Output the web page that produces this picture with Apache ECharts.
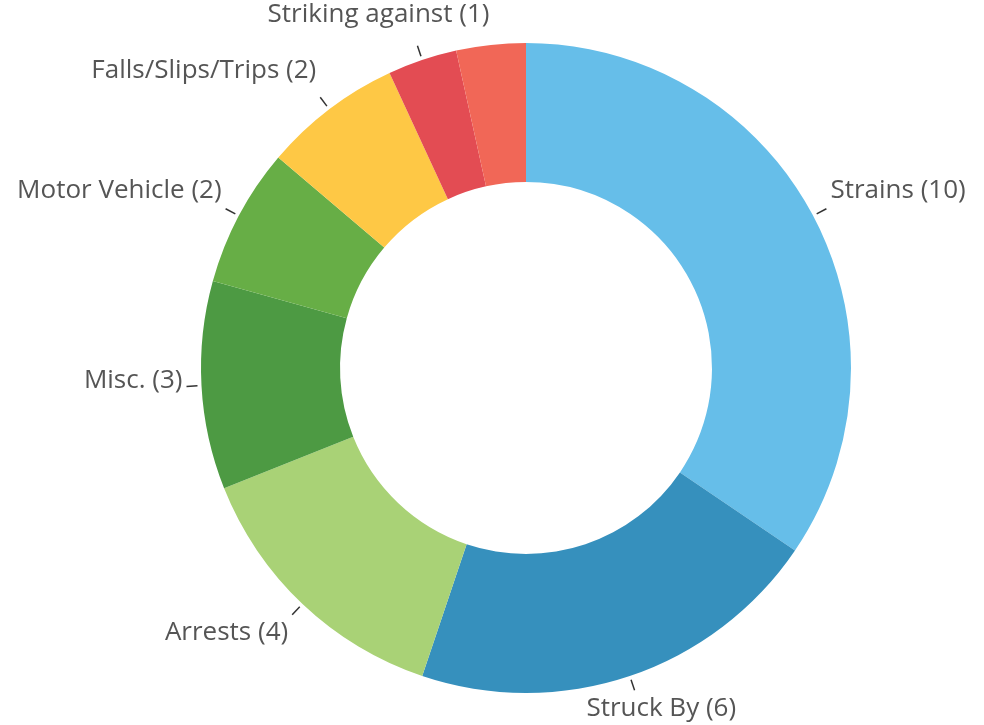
<!DOCTYPE html>
<html>
<head>
<meta charset="utf-8">
<title>Injuries by cause</title>
<script src="https://cdn.jsdelivr.net/npm/echarts@6/dist/echarts.min.js"></script>
<style>
	html, body {
		margin: 0;
		padding: 0;
		background: #fff;
	}

	#chart {
		width: 984px;
		height: 725px;
	}
</style>
</head>
<body>
<div id="chart"></div>
<script>
	// slices, clockwise from 12 o'clock
	const categories = ['Strains', 'Struck By', 'Arrests', 'Misc.', 'Motor Vehicle', 'Falls/Slips/Trips', 'Striking against', 'Other']
	const counts = [10, 6, 4, 3, 2, 2, 1, 1]
	const showLabel = [true, true, true, true, true, true, true, false]

	const palette = ['#66bee9', '#3690bd', '#a9d276', '#4d9a43', '#67ae46', '#fec845', '#e34c53', '#f16757']

	function clamp(v, a, b) {
		return Math.max(a, Math.min(b, v))
	}

	// place text around the end of a short radial tick
	function placeLabel(p) {
		const pts = p.labelLinePoints
		if (!pts) return {}
		const x0 = pts[0][0], y0 = pts[0][1]
		const dx = pts[1][0] - x0, dy = pts[1][1] - y0
		const len = Math.sqrt(dx * dx + dy * dy) || 1
		const ux = dx / len, uy = dy / len
		const sx = x0 + ux * 4, sy = y0 + uy * 4
		const ex = x0 + ux * 15, ey = y0 + uy * 15
		const w = p.labelRect.width, h = p.labelRect.height

		// signed angle from the vertical axis, degrees
		const phi = Math.asin(clamp(ux, -1, 1)) * 180 / Math.PI
		const t = Math.abs(phi)
		const g = clamp(t / 55 + Math.max(0, t - 20) * 0.03, 0, 1)
		const f = 0.5 - 0.5 * Math.sign(phi) * g
		const fv = clamp(0.75 - 1.5 * uy, 0, 1)
		const lift = clamp((-uy - 0.5) * 30, 0, 14)

		return {
			x: ex - f * w + (1 - 2 * f) * 4,
			y: ey - fv * h + (1 - 2 * fv) * 2 - lift,
			align: 'left',
			verticalAlign: 'top',
			labelLinePoints: [[sx, sy], [ex, ey], [ex, ey]]
		}
	}

	const data = categories.map((name, i) => ({
		name: name,
		value: counts[i],
		itemStyle: { color: palette[i] },
		label: { show: showLabel[i] },
		labelLine: { show: showLabel[i] }
	}))

	const chart = echarts.init(document.getElementById('chart'))

	chart.setOption({
		animation: false,
		series: [{
			type: 'pie',
			center: [526, 368],
			radius: [186, 325],
			startAngle: 90,
			clockwise: true,
			avoidLabelOverlap: false,
			data: data,
			itemStyle: {
				borderWidth: 0
			},
			label: {
				show: true,
				position: 'outside',
				formatter: '{b} ({c})',
				fontFamily: 'Open Sans',
				fontSize: 26,
				lineHeight: 32,
				color: '#555'
			},
			labelLine: {
				show: true,
				length: 15,
				length2: 0,
				lineStyle: {
					color: '#333',
					width: 1.5
				}
			},
			labelLayout: placeLabel,
			emphasis: {
				disabled: true
			}
		}]
	})
</script>
</body>
</html>
